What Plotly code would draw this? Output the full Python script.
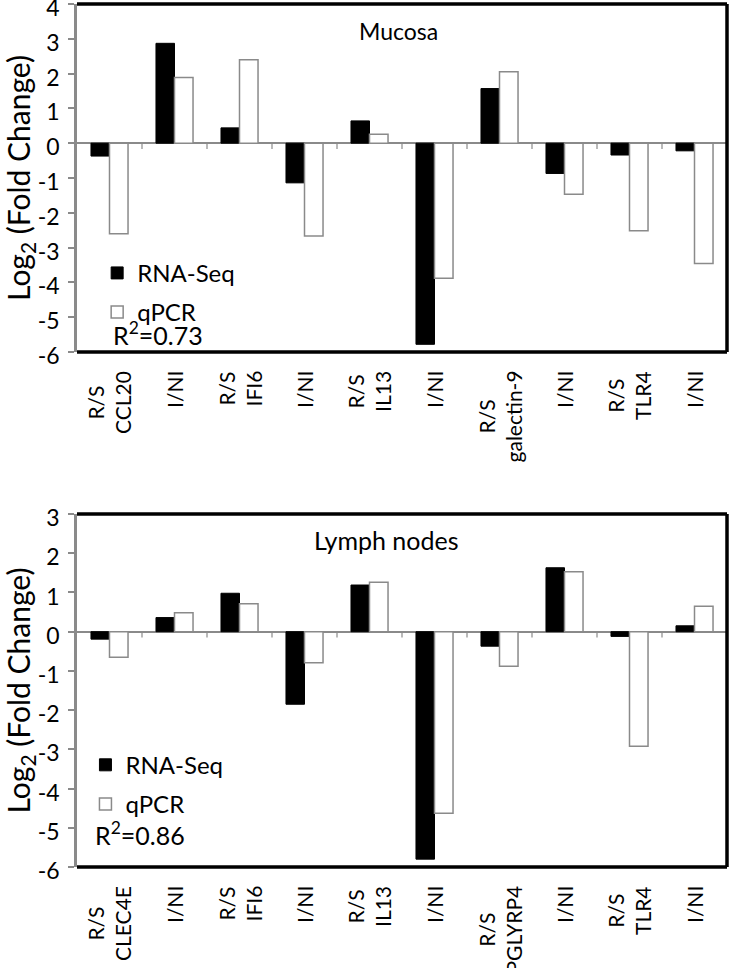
import plotly.graph_objects as go

# ---------------- data ----------------
mucosa_categories = ["CCL20 R/S", "CCL20 I/NI", "IFI6 R/S", "IFI6 I/NI", "IL13 R/S",
                     "IL13 I/NI", "galectin-9 R/S", "galectin-9 I/NI", "TLR4 R/S", "TLR4 I/NI"]
mucosa_labels = ["R/S<br>CCL20", "I/NI", "R/S<br>IFI6", "I/NI", "R/S<br>IL13",
                 "I/NI", "R/S<br>galectin-9", "I/NI", "R/S<br>TLR4", "I/NI"]
mucosa_rnaseq = [-0.37, 2.87, 0.44, -1.14, 0.64, -5.78, 1.57, -0.87, -0.34, -0.22]
mucosa_qpcr = [-2.60, 1.89, 2.40, -2.67, 0.26, -3.88, 2.05, -1.47, -2.52, -3.46]
mucosa_yticks = [4, 3, 2, 1, 0, -1, -2, -3, -4, -5, -6]

lymph_categories = ["CLEC4E R/S", "CLEC4E I/NI", "IFI6 R/S", "IFI6 I/NI", "IL13 R/S",
                    "IL13 I/NI", "PGLYRP4 R/S", "PGLYRP4 I/NI", "TLR4 R/S", "TLR4 I/NI"]
lymph_labels = ["R/S<br>CLEC4E", "I/NI", "R/S<br>IFI6", "I/NI", "R/S<br>IL13",
                "I/NI", "R/S<br>PGLYRP4", "I/NI", "R/S<br>TLR4", "I/NI"]
lymph_rnaseq = [-0.19, 0.36, 0.98, -1.85, 1.19, -5.80, -0.37, 1.63, -0.12, 0.15]
lymph_qpcr = [-0.65, 0.48, 0.71, -0.79, 1.26, -4.63, -0.88, 1.53, -2.92, 0.65]
lymph_yticks = [3, 2, 1, 0, -1, -2, -3, -4, -5, -6]

mucosa_r2 = "R<sup>2</sup>=0.73"
lymph_r2 = "R<sup>2</sup>=0.86"

FONT = "Lato"
GRAY = "#8a8a8a"

fig = go.Figure()

panels = [
    dict(cats=mucosa_categories, labels=mucosa_labels, rna=mucosa_rnaseq, qpcr=mucosa_qpcr,
         xa="x", ya="y", legend="legend"),
    dict(cats=lymph_categories, labels=lymph_labels, rna=lymph_rnaseq, qpcr=lymph_qpcr,
         xa="x2", ya="y2", legend="legend2"),
]

for p in panels:
    fig.add_trace(go.Bar(x=p["cats"], y=p["rna"], name="RNA-Seq", xaxis=p["xa"], yaxis=p["ya"],
                         marker=dict(color="black", line=dict(color="black", width=1)),
                         legend=p["legend"], legendgroup=p["legend"] + "a"))
    fig.add_trace(go.Bar(x=p["cats"], y=p["qpcr"], name="qPCR", xaxis=p["xa"], yaxis=p["ya"],
                         marker=dict(color="white", line=dict(color=GRAY, width=1.5)),
                         legend=p["legend"], legendgroup=p["legend"] + "b"))

shapes = []
annotations = []
for idx, p in enumerate(panels):
    xr = p["xa"]
    yr = p["ya"]
    n = len(p["cats"])
    # tick marks on the zero line at group boundaries
    for i in range(n):
        shapes.append(dict(type="line", xref=xr, yref=yr, x0=i + 0.5, x1=i + 0.5,
                           y0=0, y1=-0.17 if idx == 0 else -0.15,
                           line=dict(color=GRAY, width=1.2)))
    # frame: top, right, bottom in black
    for (x0, y0, x1, y1) in [(0, 1, 1, 1), (1, 0, 1, 1), (0, 0, 1, 0)]:
        shapes.append(dict(type="line", xref=xr + " domain", yref=yr + " domain",
                           x0=x0, y0=y0, x1=x1, y1=y1, line=dict(color="black", width=3.5)))
    # category labels
    for c, lab in zip(p["cats"], p["labels"]):
        annotations.append(dict(x=c, xref=xr, y=0, yref=yr + " domain", yanchor="top",
                                xanchor="center", yshift=-17, text=lab, textangle=-90,
                                align="center", showarrow=False,
                                font=dict(family=FONT, size=21, color="black")))

annotations += [
    dict(text="Mucosa", xref="x domain", yref="y domain", x=0.495, y=0.922,
         xanchor="center", yanchor="middle", showarrow=False,
         font=dict(family=FONT, size=23, color="black")),
    dict(text="Lymph nodes", xref="x2 domain", yref="y2 domain", x=0.475, y=0.926,
         xanchor="center", yanchor="middle", showarrow=False,
         font=dict(family=FONT, size=25, color="black")),
    dict(text=mucosa_r2, xref="x domain", yref="y domain", x=0.052, y=0.052,
         xanchor="left", yanchor="middle", showarrow=False,
         font=dict(family=FONT, size=25, color="black")),
    dict(text=lymph_r2, xref="x2 domain", yref="y2 domain", x=0.024, y=0.095,
         xanchor="left", yanchor="middle", showarrow=False,
         font=dict(family=FONT, size=25, color="black")),
]


def yaxis_style(ticks, rng, dom):
    return dict(domain=dom, range=rng, tickvals=ticks, ticktext=[str(t) for t in ticks],
                ticks="outside", ticklen=6, tickcolor=GRAY, tickwidth=1.5,
                showline=True, linecolor=GRAY, linewidth=2.5, showgrid=False,
                zeroline=True, zerolinecolor=GRAY, zerolinewidth=2, automargin=False,
                tickfont=dict(family=FONT, size=23, color="black"),
                ticklabelstandoff=4, ticklabelshift=4, ticklabeloverflow="allow",
                title=dict(text="Log<sub>2</sub> (Fold Change)", standoff=8,
                           font=dict(family=FONT, size=30, color="black")))


xaxis_common = dict(showticklabels=False, showline=False, ticks="", showgrid=False,
                    zeroline=False, range=[-0.5, 9.5], automargin=False, domain=[0, 1])

fig.update_layout(
    width=729, height=968,
    margin=dict(l=77, r=2, t=4, b=101),
    paper_bgcolor="white", plot_bgcolor="white",
    barmode="group", bargap=0.43, bargroupgap=0,
    font=dict(family=FONT, color="black"),
    xaxis=dict(anchor="y", **xaxis_common),
    yaxis=dict(anchor="x", **yaxis_style(mucosa_yticks, [-6, 4], [0.5968, 1.0])),
    xaxis2=dict(anchor="y2", **xaxis_common),
    yaxis2=dict(anchor="x2", **yaxis_style(lymph_yticks, [-6, 3], [0.0, 0.4090])),
    legend=dict(x=0.031, y=0.714, xanchor="left", yanchor="top", bgcolor="rgba(0,0,0,0)",
                traceorder="grouped", tracegroupgap=5,
                font=dict(family=FONT, size=24, color="black")),
    legend2=dict(x=0.013, y=0.144, xanchor="left", yanchor="top", bgcolor="rgba(0,0,0,0)",
                 traceorder="grouped", tracegroupgap=5,
                 font=dict(family=FONT, size=24, color="black")),
    shapes=shapes,
    annotations=annotations,
)

fig.write_html("out.html", config={"displayModeBar": False},
               post_script="document.body.style.margin='0px';")
